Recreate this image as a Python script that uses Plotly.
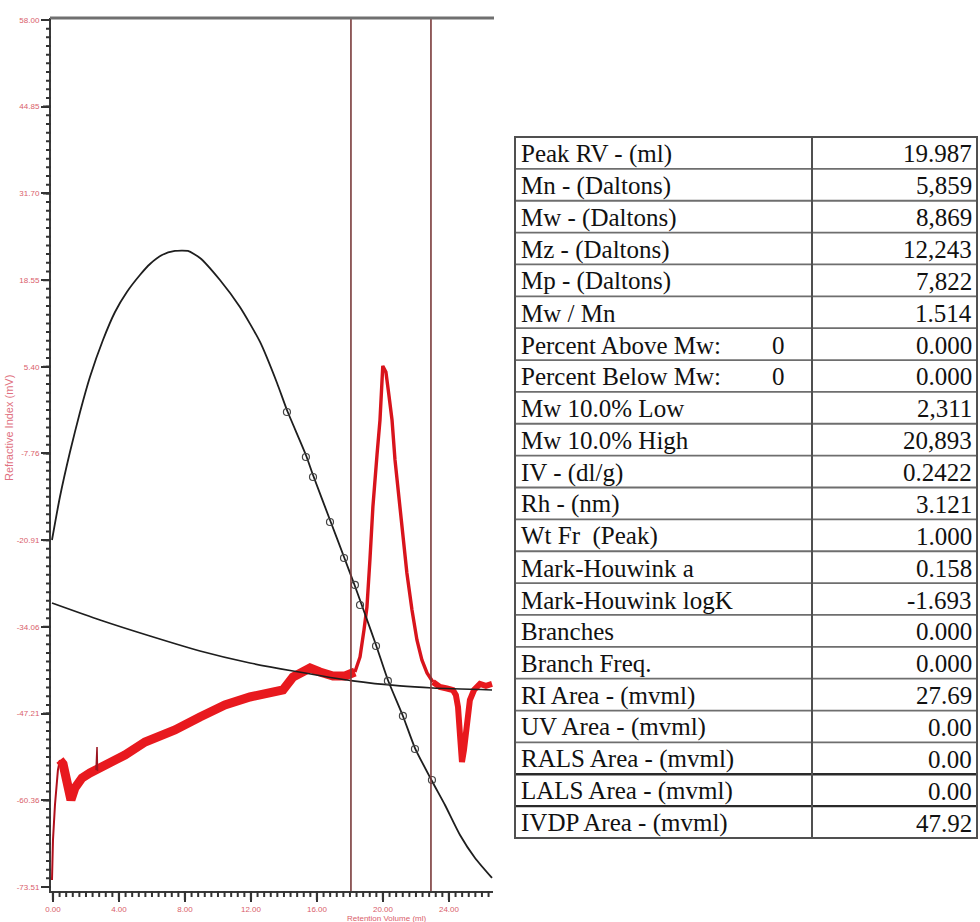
import plotly.graph_objects as go

# ---------------- data ----------------
# RI detector trace (retention volume in ml, response in mV)
ri_rv = [-0.06, 0.00, 0.12, 0.30, 0.42, 0.61, 0.85, 1.09, 1.33, 1.76, 2.24, 2.61,
         2.85, 3.58, 4.36, 5.58, 7.39, 8.91, 10.42, 11.94, 13.15, 13.94, 14.55, 14.97,
         15.58, 16.18, 16.97, 17.70, 18.00, 18.30,
         18.61, 18.85, 19.03, 19.21, 19.39, 19.64, 19.82, 19.99, 20.18, 20.36, 20.55,
         20.73, 20.91, 21.15, 21.45, 21.76, 22.06, 22.36, 22.67, 23.03,
         23.45, 23.88, 24.24, 24.42, 24.55, 24.67, 24.79, 24.91, 25.09, 25.27, 25.52,
         25.88, 26.24, 26.61]
ri_mv = [-72.45, -66.38, -61.07, -55.76, -54.25, -54.85, -57.58, -60.31, -58.49, -56.98, -56.22, -55.76,
         -55.46, -54.25, -53.49, -51.52, -49.70, -47.72, -45.90, -44.69, -43.93, -43.63, -41.66, -41.20,
         -40.29, -40.90, -41.51, -41.50, -41.05, -40.90,
         -38.62, -34.53, -31.04, -23.91, -15.87, -7.98, -2.68, 5.52, 4.61, 1.12, -2.68,
         -8.74, -13.29, -19.36, -25.88, -31.49, -36.04, -39.08, -41.05, -42.42,
         -43.17, -43.40, -43.63, -44.39, -46.21, -50.45, -54.55, -52.73, -48.18, -45.15, -43.63,
         -42.72, -43.00, -42.72]
ri_spike_rv = [2.61, 2.67, 2.70]
ri_spike_mv = [-55.76, -52.27, -55.90]

# calibration (log M) fit curve, drawn on the same display scale
cal_rv = [-0.06, 0.42, 1.03, 1.64, 2.24, 3.03, 3.76, 4.48, 5.27, 5.88, 6.61, 7.39, 8.18,
          8.91, 10.12, 11.33, 12.55, 13.58, 14.18, 15.33, 15.76, 16.79, 17.64, 18.30,
          18.91, 19.58, 20.30, 21.21, 21.94, 22.97, 23.76, 24.67, 25.58, 26.61]
cal_val = [-20.88, -14.35, -7.53, -1.46, 3.85, 9.46, 13.71, 16.74, 19.32, 20.99, 22.35, 22.96, 22.96,
           21.90, 18.56, 14.46, 9.16, 2.94, -1.16, -7.98, -11.02, -17.84, -23.46, -27.85,
           -32.10, -36.80, -42.11, -47.57, -52.43, -57.43, -61.07, -65.62, -69.11, -72.14]
# calibration standards (open circles)
std_rv = [14.18, 15.33, 15.76, 16.79, 17.64, 18.30, 18.61, 19.58, 20.30, 21.21, 21.94, 22.97]
std_val = [-1.46, -8.29, -11.32, -18.15, -23.61, -27.70, -30.74, -36.96, -42.26, -47.57, -52.58, -57.28]

# intrinsic viscosity curve
iv_rv = [-0.06, 2.85, 5.88, 8.91, 11.94, 14.55, 18.18, 21.03, 23.03, 26.61]
iv_val = [-30.43, -33.01, -35.44, -37.71, -39.53, -40.75, -42.26, -43.02, -43.33, -43.63]

# integration limits (ml)
limits_rv = [18.06, 22.91]

# axes ticks
x_ticks = [0, 4, 8, 12, 16, 20, 24]
x_ticktext = ["0.00", "4.00", "8.00", "12.00", "16.00", "20.00", "24.00"]
y_ticks = [58.0, 44.849, 31.698, 18.547, 5.396, -7.755, -20.906, -34.057, -47.208, -60.359, -73.51]
y_ticktext = ["58.00", "44.85", "31.70", "18.55", "5.40", "-7.76", "-20.91", "-34.06", "-47.21", "-60.36", "-73.51"]

# results table
table_labels = ["Peak RV - (ml)", "Mn - (Daltons)", "Mw - (Daltons)", "Mz - (Daltons)", "Mp - (Daltons)",
                "Mw / Mn", "Percent Above Mw:", "Percent Below Mw:", "Mw 10.0% Low", "Mw 10.0% High",
                "IV - (dl/g)", "Rh - (nm)", "Wt Fr  (Peak)", "Mark-Houwink a", "Mark-Houwink logK",
                "Branches", "Branch Freq.", "RI Area - (mvml)", "UV Area - (mvml)", "RALS Area - (mvml)",
                "LALS Area - (mvml)", "IVDP Area - (mvml)"]
table_mid = ["", "", "", "", "", "", "0", "0", "", "", "", "", "", "", "", "", "", "", "", "", "", ""]
table_values = ["19.987", "5,859", "8,869", "12,243", "7,822", "1.514", "0.000", "0.000", "2,311", "20,893",
                "0.2422", "3.121", "1.000", "0.158", "-1.693", "0.000", "0.000", "27.69", "0.00", "0.00",
                "0.00", "47.92"]

# ---------------- figure ----------------
W, H = 980, 922
def px(x):
    return x / W
def py(y):
    return 1 - y / H

X_RANGE = [-0.12, 26.67]
Y_RANGE = [-74.12, 58.30]
xd = [px(51), px(493)]
yd = [py(891), py(18)]

def xpaper(v):
    return xd[0] + (v - X_RANGE[0]) / (X_RANGE[1] - X_RANGE[0]) * (xd[1] - xd[0])
def ypaper(v):
    return yd[0] + (v - Y_RANGE[0]) / (Y_RANGE[1] - Y_RANGE[0]) * (yd[1] - yd[0])

RED = "#e8191e"
fig = go.Figure()

# RI trace split in visual segments (thin start, noisy baseline, peak, tail)
seg = [(0, 5, 2.0, "#b0101c"), (4, 30, 9, RED), (29, 50, 3.4, "#d8141c"), (49, len(ri_rv), 6, RED)]
for a, b, w, c in seg:
    fig.add_trace(go.Scatter(x=ri_rv[a:b], y=ri_mv[a:b], mode="lines",
                             line=dict(color=c, width=w), hoverinfo="skip"))
fig.add_trace(go.Scatter(x=ri_spike_rv, y=ri_spike_mv, mode="lines",
                         line=dict(color="#9a1420", width=1.5), hoverinfo="skip"))

fig.add_trace(go.Scatter(x=cal_rv, y=cal_val, mode="lines", line=dict(color="#1e1e1e", width=1.8,
                         shape="spline", smoothing=0.6), hoverinfo="skip"))
fig.add_trace(go.Scatter(x=iv_rv, y=iv_val, mode="lines", line=dict(color="#1e1e1e", width=1.7,
                         shape="spline", smoothing=0.6), hoverinfo="skip"))
fig.add_trace(go.Scatter(x=std_rv, y=std_val, mode="markers",
                         marker=dict(symbol="circle-open", size=7, color="#444444", line=dict(width=1.2)),
                         hoverinfo="skip"))

# integration limits
for lv in limits_rv:
    fig.add_shape(type="line", xref="x", yref="paper", x0=lv, x1=lv, y0=yd[0], y1=yd[1],
                  line=dict(color="#7a3a3a", width=1.6))
# heavy top border
fig.add_shape(type="line", xref="paper", yref="paper", x0=px(50), x1=px(494), y0=py(18), y1=py(18),
              line=dict(color="#707070", width=3))

# axis tick marks (major + ten minor divisions), drawn as paper paths on the axes
x_step = (x_ticks[1] - x_ticks[0]) / 10
x_minor = [x_ticks[0] + k * x_step for k in range(-1, 70)]
x_minor = [v for v in x_minor if X_RANGE[0] <= v <= X_RANGE[1]]
y_step = (y_ticks[0] - y_ticks[1]) / 10
y_minor = [y_ticks[-1] + k * y_step for k in range(0, 101)]

def tick_path_x(vals, length):
    y0 = yd[0]
    y1 = yd[0] - length / H
    return " ".join(f"M{xpaper(v):.5f},{y0:.5f} L{xpaper(v):.5f},{y1:.5f}" for v in vals)
def tick_path_y(vals, length):
    x0 = xd[0]
    x1 = xd[0] - length / W
    return " ".join(f"M{x0:.5f},{ypaper(v):.5f} L{x1:.5f},{ypaper(v):.5f}" for v in vals)

for path, w in [(tick_path_x(x_minor, 6), 2.0), (tick_path_x(x_ticks, 9), 2.2),
                (tick_path_y(y_minor, 5), 2.0), (tick_path_y(y_ticks, 8), 2.2)]:
    fig.add_shape(type="path", xref="paper", yref="paper", path=path,
                  line=dict(color="#333333", width=w))

axis_font = dict(family="Liberation Sans, Arial", size=8, color="#d9606a")
fig.update_layout(
    width=W, height=H, margin=dict(l=0, r=0, t=0, b=0),
    paper_bgcolor="white", plot_bgcolor="white", showlegend=False,
    xaxis=dict(domain=xd, range=X_RANGE, tickmode="array", tickvals=x_ticks, ticktext=x_ticktext,
               ticks="outside", ticklen=9, tickwidth=2, tickcolor="#333333",
               showline=True, linecolor="#3a3a3a", linewidth=2, showgrid=False, zeroline=False,
               tickfont=axis_font, automargin=False),
    yaxis=dict(domain=yd, range=Y_RANGE, tickmode="array", tickvals=y_ticks, ticktext=y_ticktext,
               ticks="outside", ticklen=8, tickwidth=2, tickcolor="#333333",
               showline=True, linecolor="#3a3a3a", linewidth=2, showgrid=False, zeroline=False,
               tickfont=axis_font, automargin=False),
)

# axis titles
fig.add_annotation(xref="paper", yref="paper", x=px(386), y=py(918), text="Retention Volume (ml)",
                   showarrow=False, font=dict(family="Liberation Sans, Arial", size=8, color="#d9606a"),
                   xanchor="center", yanchor="middle")
fig.add_annotation(xref="paper", yref="paper", x=px(9), y=py(428), text="Refractive Index (mV)",
                   showarrow=False, textangle=-90,
                   font=dict(family="Liberation Sans, Arial", size=11, color="#e07080"),
                   xanchor="center", yanchor="middle")

# ---------------- results table ----------------
T_L, T_R, T_MID, T_TOP, T_BOT = 515, 977, 812, 137, 838
n = len(table_labels)
rh = (T_BOT - T_TOP) / n
for i in range(1, n):
    yy = T_TOP + i * rh
    heavy = i in (20, 21)
    fig.add_shape(type="line", xref="paper", yref="paper", x0=px(T_L), x1=px(T_R), y0=py(yy), y1=py(yy),
                  line=dict(color="#2a2a2a" if heavy else "#6e6e6e", width=2.4 if heavy else 1.8))
fig.add_shape(type="rect", xref="paper", yref="paper", x0=px(T_L), x1=px(T_R), y0=py(T_BOT), y1=py(T_TOP),
              line=dict(color="#505050", width=2))
fig.add_shape(type="line", xref="paper", yref="paper", x0=px(T_MID), x1=px(T_MID), y0=py(T_BOT), y1=py(T_TOP),
              line=dict(color="#505050", width=2))

tfont = dict(family="Liberation Serif", size=25, color="#111111")
for i in range(n):
    yc = T_TOP + (i + 0.5) * rh + 1
    fig.add_annotation(xref="paper", yref="paper", x=px(T_L + 4), y=py(yc), text=table_labels[i],
                       showarrow=False, xanchor="left", yanchor="middle", font=tfont)
    fig.add_annotation(xref="paper", yref="paper", x=px(T_R - 3), y=py(yc), text=table_values[i],
                       showarrow=False, xanchor="right", yanchor="middle", font=tfont)
    if table_mid[i]:
        fig.add_annotation(xref="paper", yref="paper", x=px(778), y=py(yc), text=table_mid[i],
                           showarrow=False, xanchor="center", yanchor="middle", font=tfont)

fig.write_html("out.html")
